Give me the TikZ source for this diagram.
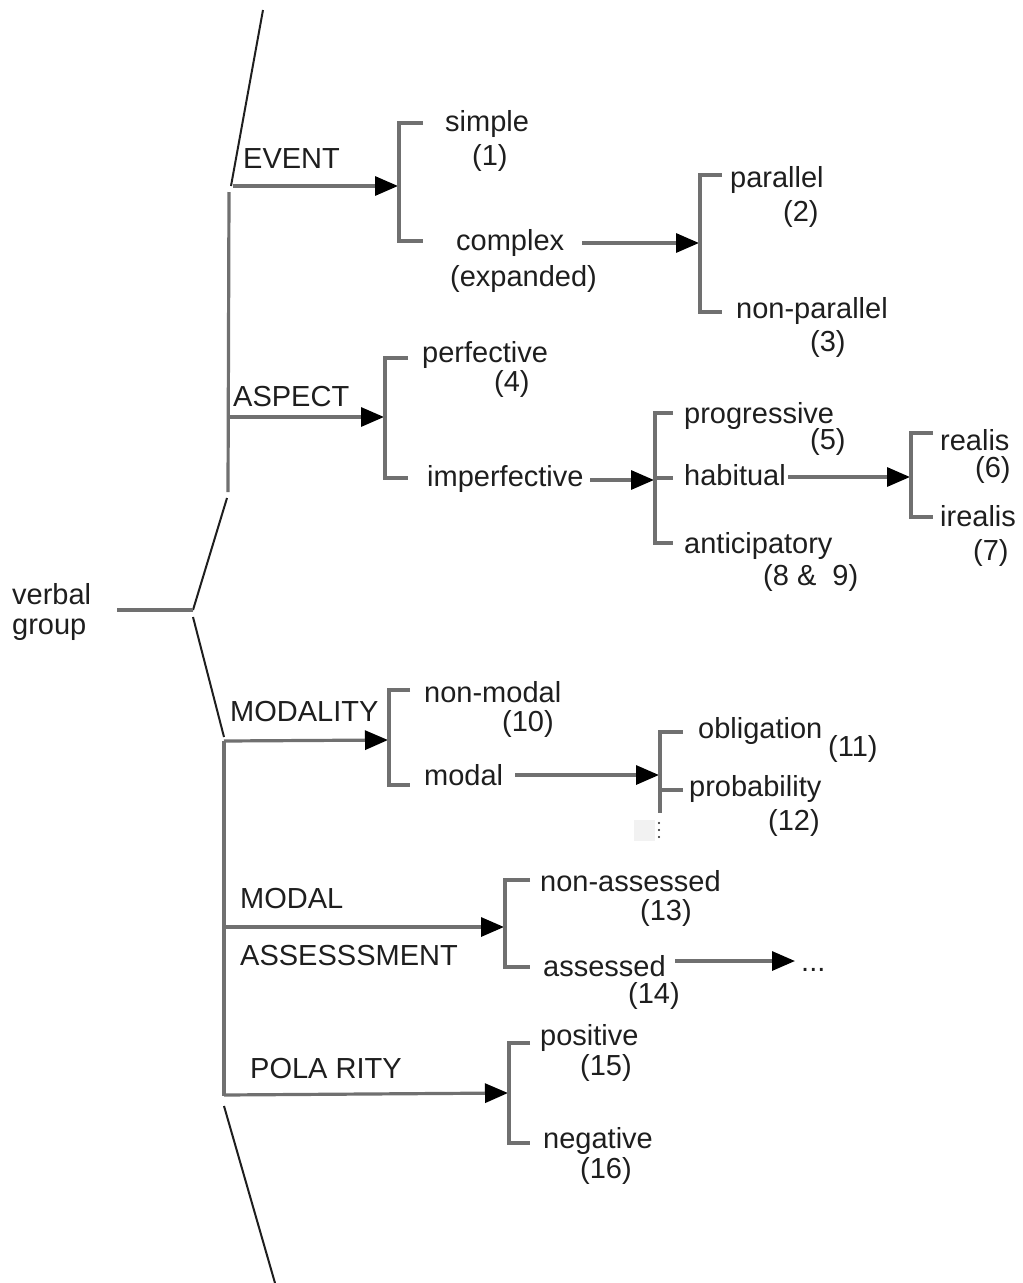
\documentclass[tikz,border=0pt]{standalone}
\usepackage{fontspec}
\setmainfont{Liberation Sans}
\usetikzlibrary{arrows.meta}
\definecolor{rule}{RGB}{112,112,112}
\definecolor{ink}{RGB}{30,30,30}
\begin{document}
\begin{tikzpicture}[x=1pt,y=-1pt,
  lbl/.style={inner sep=0pt, anchor=mid west, yshift=-8pt, text=ink, font=\fontsize{29}{32}\selectfont},
  br/.style={draw=rule, line width=3.2pt},
  stem/.style={draw=ink, line width=2pt},
  arr/.style={draw=rule, line width=3.2pt, -{Triangle[length=23pt,width=19pt,color=black]}},
]
\useasboundingbox (0,0) rectangle (1023,1283);

% ---------- labels ----------
\node[lbl] (verbal) at (12,594) {verbal};
\node[lbl] (group) at (12,624) {group};

\node[lbl] (event) at (243,158) {EVENT};
\node[lbl] (simple) at (445,121) {simple};
\node[lbl] (n1) at (472,155) {(1)};
\node[lbl] (complex) at (456,240) {complex};
\node[lbl] (expanded) at (450,276) {(expanded)};
\node[lbl] (parallel) at (730,177) {parallel};
\node[lbl] (n2) at (783,211) {(2)};
\node[lbl] (nonpar) at (736,308) {non-parallel};
\node[lbl] (n3) at (810,341) {(3)};

\node[lbl] (aspect) at (233,396) {ASPECT};
\node[lbl] (perf) at (422,352) {perfective};
\node[lbl] (n4) at (494,381) {(4)};
\node[lbl] (imperf) at (427,476) {imperfective};
\node[lbl] (prog) at (684,413) {progressive};
\node[lbl] (n5) at (810,439) {(5)};
\node[lbl] (habit) at (684,475) {habitual};
\node[lbl] (antic) at (684,543) {anticipatory};
\node[lbl] (n89) at (763,575) {(8 \&\ \ 9)};
\node[lbl] (realis) at (940,440) {realis};
\node[lbl] (n6) at (975,467) {(6)};
\node[lbl] (irealis) at (940,516) {irealis};
\node[lbl] (n7) at (973,550) {(7)};

\node[lbl] (modality) at (230,711) {MODALITY};
\node[lbl] (nonmodal) at (424,692) {non-modal};
\node[lbl] (n10) at (502,721) {(10)};
\node[lbl] (modal) at (424,775) {modal};
\node[lbl] (oblig) at (698,728) {obligation};
\node[lbl] (n11) at (828,746) {(11)};
\node[lbl] (prob) at (689,786) {probability};
\node[lbl] (n12) at (768,820) {(12)};

\node[lbl] (mass1) at (240,898) {MODAL};
\node[lbl] (mass2) at (240,955) {ASSESSSMENT};
\node[lbl] (nonass) at (540,881) {non-assessed};
\node[lbl] (n13) at (640,910) {(13)};
\node[lbl] (ass) at (543,966) {assessed};
\node[lbl] (n14) at (628,993) {(14)};
\node[lbl, anchor=base west, yshift=0pt] (more) at (801,963) {...};

\node[lbl] (polarity) at (250,1068) {POLA RITY};
\node[lbl] (pos) at (540,1035) {positive};
\node[lbl] (n15) at (580,1065) {(15)};
\node[lbl] (neg) at (543,1138) {negative};
\node[lbl] (n16) at (580,1168) {(16)};

% ---------- main system network spine ----------
\coordinate (top) at (263,10);
\coordinate (evj) at (231,186);
\coordinate (up1) at (229,192);
\coordinate (up2) at (228,492);
\coordinate (up3) at (227,498);
\coordinate (root) at (193,610);
\coordinate (vgend) at (117,610);
\coordinate (lo0) at (193,617);
\coordinate (lo1) at (224,737);
\coordinate (lo2) at (224,741);
\coordinate (lo3) at (224,1096);
\coordinate (lo4) at (224,1106);
\coordinate (bot) at (275,1283);

\draw[stem] (top) -- (evj);
\draw[br] (up1) -- (up2);
\draw[stem] (up3) -- (root);
\draw[br] (root) -- (vgend);
\draw[stem] (lo0) -- (lo1);
\draw[br] (lo2) -- (lo3);
\draw[stem] (lo4) -- (bot);

% ---------- EVENT ----------
\coordinate (evs) at (233,186);
\coordinate (evt) at (398,186);
\draw[arr] (evs) -- (evt);
\draw[br] (423,123) -- (399,123) -- (399,241) -- (423,241);

\coordinate (cxs) at (582,243);
\coordinate (cxt) at (699,243);
\draw[arr] (cxs) -- (cxt);
\draw[br] (722,175) -- (700,175) -- (700,312) -- (722,312);

% ---------- ASPECT ----------
\coordinate (asps) at (230,417);
\coordinate (aspt) at (384,417);
\draw[arr] (asps) -- (aspt);
\draw[br] (408,358) -- (385,358) -- (385,478) -- (408,478);

\coordinate (imps) at (590,480);
\coordinate (impt) at (654,480);
\draw[arr] (imps) -- (impt);
\draw[br] (673,413) -- (655,413) -- (655,543) -- (673,543);
\draw[br] (655,478) -- (673,478);

\coordinate (habs) at (788,477);
\coordinate (habt) at (910,477);
\draw[arr] (habs) -- (habt);
\draw[br] (933,433) -- (911,433) -- (911,517) -- (933,517);

% ---------- MODALITY ----------
\coordinate (mods) at (224,741);
\coordinate (modt) at (388,740);
\draw[arr] (mods) -- (modt);
\draw[br] (410,690) -- (389,690) -- (389,785) -- (410,785);

\coordinate (mls) at (515,775);
\coordinate (mlt) at (659,775);
\draw[arr] (mls) -- (mlt);
\draw[br] (683,732) -- (660,732) -- (660,813);
\draw[br] (660,790) -- (683,790);
\fill[gray!10] (634,820) rectangle (655,841);
\foreach \yy in {823,830,837} \fill[ink] (659,\yy) circle (1.1pt);

% ---------- MODAL ASSESSMENT ----------
\coordinate (mas) at (224,927);
\coordinate (mat) at (504,927);
\draw[arr] (mas) -- (mat);
\draw[br] (530,880) -- (505,880) -- (505,967) -- (530,967);

\coordinate (asss) at (675,961);
\coordinate (asst) at (795,961);
\draw[arr] (asss) -- (asst);

% ---------- POLARITY ----------
\coordinate (pols) at (224,1095);
\coordinate (polt) at (508,1093);
\draw[arr] (pols) -- (polt);
\draw[br] (530,1043) -- (509,1043) -- (509,1143) -- (530,1143);
\end{tikzpicture}
\end{document}
